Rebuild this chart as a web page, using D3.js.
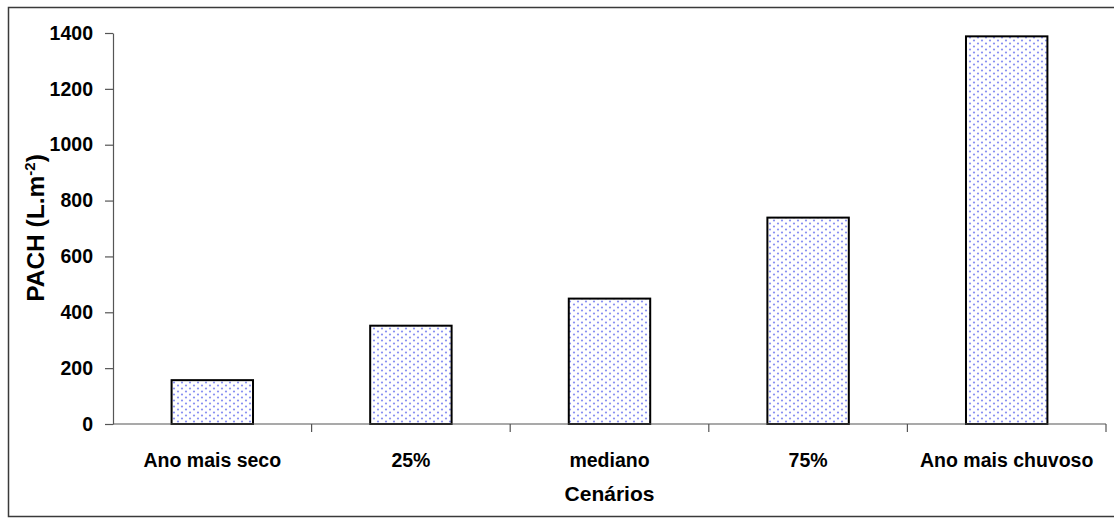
<!DOCTYPE html>
<html>
<head>
<meta charset="utf-8">
<script src="https://cdn.jsdelivr.net/npm/d3@7"></script>
<style>
  html, body { margin: 0; padding: 0; background: #fff; }
  svg { display: block; }
  text { font-family: "Liberation Sans", Arial, sans-serif; font-weight: bold; fill: #000; }
</style>
</head>
<body>
<svg id="chart" width="1114" height="518"></svg>
<script>
// Scenario categories and PACH values (L.m^-2)
const categories = ["Ano mais seco", "25%", "mediano", "75%", "Ano mais chuvoso"];
const pachValues = [157, 352, 449, 739, 1388];
const yTicks = [0, 200, 400, 600, 800, 1000, 1200, 1400];

const svg = d3.select("#chart");
const W = 1114;
const xLeft = 113, xRight = 1106;
const y0 = 424, y1 = 33;

// Outer frame
svg.append("rect")
  .attr("x", 8.5).attr("y", 7.5)
  .attr("width", W + 10).attr("height", 516.5 - 7.5)
  .attr("fill", "none").attr("stroke", "#3a3a3a").attr("stroke-width", 1.5);

// Dotted fill pattern for bars
const defs = svg.append("defs");
const pat = defs.append("pattern")
  .attr("id", "dots").attr("patternUnits", "userSpaceOnUse")
  .attr("width", 8).attr("height", 6);
pat.append("rect").attr("width", 8).attr("height", 6).attr("fill", "#fff");
pat.append("circle").attr("cx", 2).attr("cy", 1.5).attr("r", 1.1).attr("fill", "#8a91f2");
pat.append("circle").attr("cx", 6).attr("cy", 4.5).attr("r", 1.1).attr("fill", "#8a91f2");

const x = d3.scaleBand().domain(categories).range([xLeft, xRight]).paddingInner(0.59).paddingOuter(0.295);
const y = d3.scaleLinear().domain([0, 1400]).range([y0, y1]);

// Bars
svg.append("g").selectAll("rect").data(categories).join("rect")
  .attr("x", d => x(d))
  .attr("y", (d, i) => y(pachValues[i]))
  .attr("width", x.bandwidth())
  .attr("height", (d, i) => y0 - y(pachValues[i]))
  .attr("fill", "url(#dots)")
  .attr("stroke", "#000").attr("stroke-width", 2);

// Y axis
const yAxis = svg.append("g").attr("transform", `translate(${xLeft},0)`)
  .call(d3.axisLeft(y).tickValues(yTicks).tickFormat(d3.format("d"))
    .tickSize(8).tickPadding(12).tickSizeOuter(0));
yAxis.select(".domain").attr("stroke", "#555").attr("stroke-width", 1.2);
yAxis.selectAll(".tick line").attr("stroke", "#555").attr("stroke-width", 1.2);
yAxis.selectAll(".tick text")
  .style("font-size", "19.5px")
  .style("font-family", "'Liberation Sans', Arial, sans-serif")
  .style("font-weight", "bold")
  .attr("fill", "#000");

// X axis with boundary ticks between categories
const xBase = svg.append("g");
xBase.append("line")
  .attr("x1", xLeft).attr("x2", xRight)
  .attr("y1", y0).attr("y2", y0)
  .attr("stroke", "#555").attr("stroke-width", 1.2);
const bounds = d3.range(1, categories.length + 1).map(i => xLeft + (xRight - xLeft) * i / categories.length);
xBase.selectAll("line.tk").data(bounds).join("line").attr("class", "tk")
  .attr("x1", d => d).attr("x2", d => d)
  .attr("y1", y0).attr("y2", y0 + 8)
  .attr("stroke", "#555").attr("stroke-width", 1.2);

svg.append("g").selectAll("text").data(categories).join("text")
  .attr("x", d => x(d) + x.bandwidth() / 2)
  .attr("y", 467)
  .attr("text-anchor", "middle")
  .style("font-size", "19.5px")
  .text(d => d);

// Axis titles
svg.append("text")
  .attr("x", x(categories[2]) + x.bandwidth() / 2)
  .attr("y", 501)
  .attr("text-anchor", "middle")
  .style("font-size", "21px")
  .text("Cenários");

const yt = svg.append("text")
  .attr("transform", `translate(44,228) rotate(-90)`)
  .attr("text-anchor", "middle")
  .style("font-size", "24.5px");
yt.append("tspan").text("PACH (L.m");
yt.append("tspan").attr("dy", -9).style("font-size", "15px").text("-2");
yt.append("tspan").attr("dy", 9).text(")");
</script>
</body>
</html>
